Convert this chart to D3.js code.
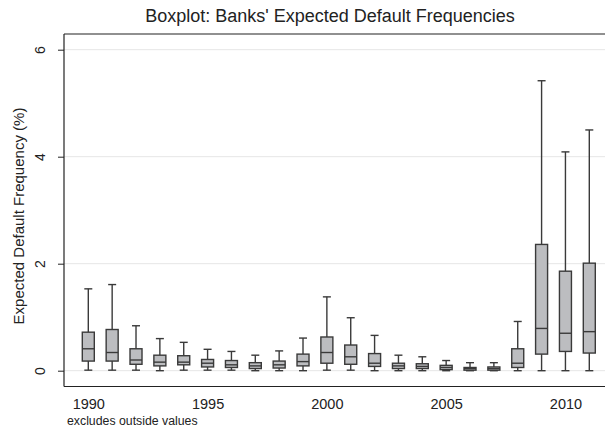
<!DOCTYPE html>
<html>
<head>
<meta charset="utf-8">
<script src="https://cdn.jsdelivr.net/npm/d3@7"></script>
<style>
  body { margin: 0; background: #fff; }
  svg { display: block; font-family: "Liberation Sans", Arial, sans-serif; }
  .grid line { stroke: #e6e6e6; }
  .box { fill: #bcbdc0; stroke: #3a3a3a; stroke-width: 1.4; }
  .whisk { stroke: #3a3a3a; stroke-width: 1.4; }
</style>
</head>
<body>
<div id="chart"></div>
<script>
// per-year box stats (EDF, %)
var years = d3.range(1990, 2012);
var lowerW = [0.01, 0.01, 0.01, 0.0, 0.01, 0.01, 0.01, 0.0, 0.0, 0.0, 0.01, 0.01, 0.0, 0.0, 0.0, 0.0, 0.0, 0.0, 0.0, 0.0, 0.0, 0.0];
var q1     = [0.18, 0.18, 0.12, 0.09, 0.11, 0.07, 0.06, 0.04, 0.05, 0.09, 0.14, 0.12, 0.08, 0.04, 0.04, 0.02, 0.01, 0.01, 0.06, 0.31, 0.36, 0.33];
var median = [0.41, 0.34, 0.20, 0.16, 0.16, 0.14, 0.11, 0.09, 0.11, 0.17, 0.34, 0.26, 0.14, 0.09, 0.08, 0.06, 0.04, 0.04, 0.14, 0.79, 0.70, 0.73];
var q3     = [0.72, 0.77, 0.41, 0.29, 0.28, 0.21, 0.19, 0.15, 0.18, 0.31, 0.63, 0.48, 0.32, 0.14, 0.13, 0.10, 0.06, 0.07, 0.41, 2.36, 1.86, 2.01];
var upperW = [1.53, 1.61, 0.84, 0.60, 0.53, 0.40, 0.36, 0.29, 0.37, 0.61, 1.38, 0.99, 0.66, 0.29, 0.26, 0.19, 0.15, 0.15, 0.92, 5.42, 4.09, 4.50];
var yTicks = [0, 2, 4, 6];
var xTickLabels = [1990, 1995, 2000, 2005, 2010];

var data = years.map(function(yr, i) {
  return {year: yr, lo: lowerW[i], q1: q1[i], med: median[i], q3: q3[i], hi: upperW[i]};
});

var W = 605, H = 428;
var plot = {left: 64, right: 605, top: 34, bottom: 386.5};

var svg = d3.select('#chart').append('svg')
  .attr('width', W).attr('height', H);

var y = d3.scaleLinear().domain([0, 6]).range([370.7, 49.7]);
var x = d3.scalePoint().domain(years).range([88.3, 589.3]);
var boxW = 12, capW = 8;

// gridlines
svg.append('g').attr('class', 'grid')
  .selectAll('line').data(yTicks).enter().append('line')
  .attr('x1', plot.left).attr('x2', plot.right)
  .attr('y1', function(d) { return y(d); })
  .attr('y2', function(d) { return y(d); });

// frame: top and bottom lines, y axis
svg.append('line').attr('x1', plot.left).attr('x2', plot.right)
  .attr('y1', plot.top).attr('y2', plot.top)
  .attr('stroke', '#222').attr('stroke-width', 1.2);
svg.append('line').attr('x1', plot.left).attr('x2', plot.right)
  .attr('y1', plot.bottom).attr('y2', plot.bottom)
  .attr('stroke', '#222').attr('stroke-width', 1.2);

var yAxis = d3.axisLeft(y).tickValues(yTicks).tickFormat(d3.format('d')).tickSize(6);
var gy = svg.append('g')
  .attr('transform', 'translate(' + plot.left + ',0)')
  .call(yAxis);
gy.select('.domain').remove();
gy.append('line').attr('y1', plot.top).attr('y2', plot.bottom)
  .attr('stroke', '#222').attr('stroke-width', 1.2);
gy.selectAll('.tick line').attr('stroke', '#222');
// rotated tick labels, baseline at x = 45
gy.selectAll('.tick text')
  .attr('font-size', 14).attr('fill', '#222')
  .attr('text-anchor', 'middle')
  .attr('x', 0).attr('y', 0).attr('dy', 0)
  .attr('transform', 'translate(-19,0) rotate(-90)');

// x labels (no tick marks)
var xAxis = d3.axisBottom(x).tickValues(xTickLabels).tickSize(0).tickPadding(12);
var gx = svg.append('g')
  .attr('transform', 'translate(0,' + plot.bottom + ')')
  .call(xAxis);
gx.select('.domain').remove();
gx.selectAll('.tick text').attr('font-size', 14.5).attr('fill', '#222');

// boxes
var b = svg.append('g').selectAll('.bx').data(data).enter().append('g').attr('class', 'bx');

b.append('line').attr('class', 'whisk')
  .attr('x1', function(d) { return x(d.year); }).attr('x2', function(d) { return x(d.year); })
  .attr('y1', function(d) { return y(d.hi); }).attr('y2', function(d) { return y(d.q3); });
b.append('line').attr('class', 'whisk')
  .attr('x1', function(d) { return x(d.year); }).attr('x2', function(d) { return x(d.year); })
  .attr('y1', function(d) { return y(d.q1); }).attr('y2', function(d) { return y(d.lo); });
b.append('line').attr('class', 'whisk')
  .attr('x1', function(d) { return x(d.year) - capW / 2; }).attr('x2', function(d) { return x(d.year) + capW / 2; })
  .attr('y1', function(d) { return y(d.hi); }).attr('y2', function(d) { return y(d.hi); });
b.append('line').attr('class', 'whisk')
  .attr('x1', function(d) { return x(d.year) - capW / 2; }).attr('x2', function(d) { return x(d.year) + capW / 2; })
  .attr('y1', function(d) { return y(d.lo); }).attr('y2', function(d) { return y(d.lo); });
b.append('rect').attr('class', 'box')
  .attr('x', function(d) { return x(d.year) - boxW / 2; })
  .attr('width', boxW)
  .attr('y', function(d) { return y(d.q3); })
  .attr('height', function(d) { return y(d.q1) - y(d.q3); });
b.append('line').attr('class', 'whisk')
  .attr('x1', function(d) { return x(d.year) - boxW / 2; }).attr('x2', function(d) { return x(d.year) + boxW / 2; })
  .attr('y1', function(d) { return y(d.med); }).attr('y2', function(d) { return y(d.med); });

// titles
svg.append('text')
  .attr('x', 330).attr('y', 22)
  .attr('text-anchor', 'middle')
  .attr('font-size', 18).attr('fill', '#222')
  .text("Boxplot: Banks' Expected Default Frequencies");

svg.append('text')
  .attr('transform', 'translate(24,216) rotate(-90)')
  .attr('text-anchor', 'middle')
  .attr('font-size', 15).attr('fill', '#222')
  .text('Expected Default Frequency (%)');

svg.append('text')
  .attr('x', 67).attr('y', 425)
  .attr('font-size', 12.3).attr('fill', '#222')
  .text('excludes outside values');
</script>
</body>
</html>
